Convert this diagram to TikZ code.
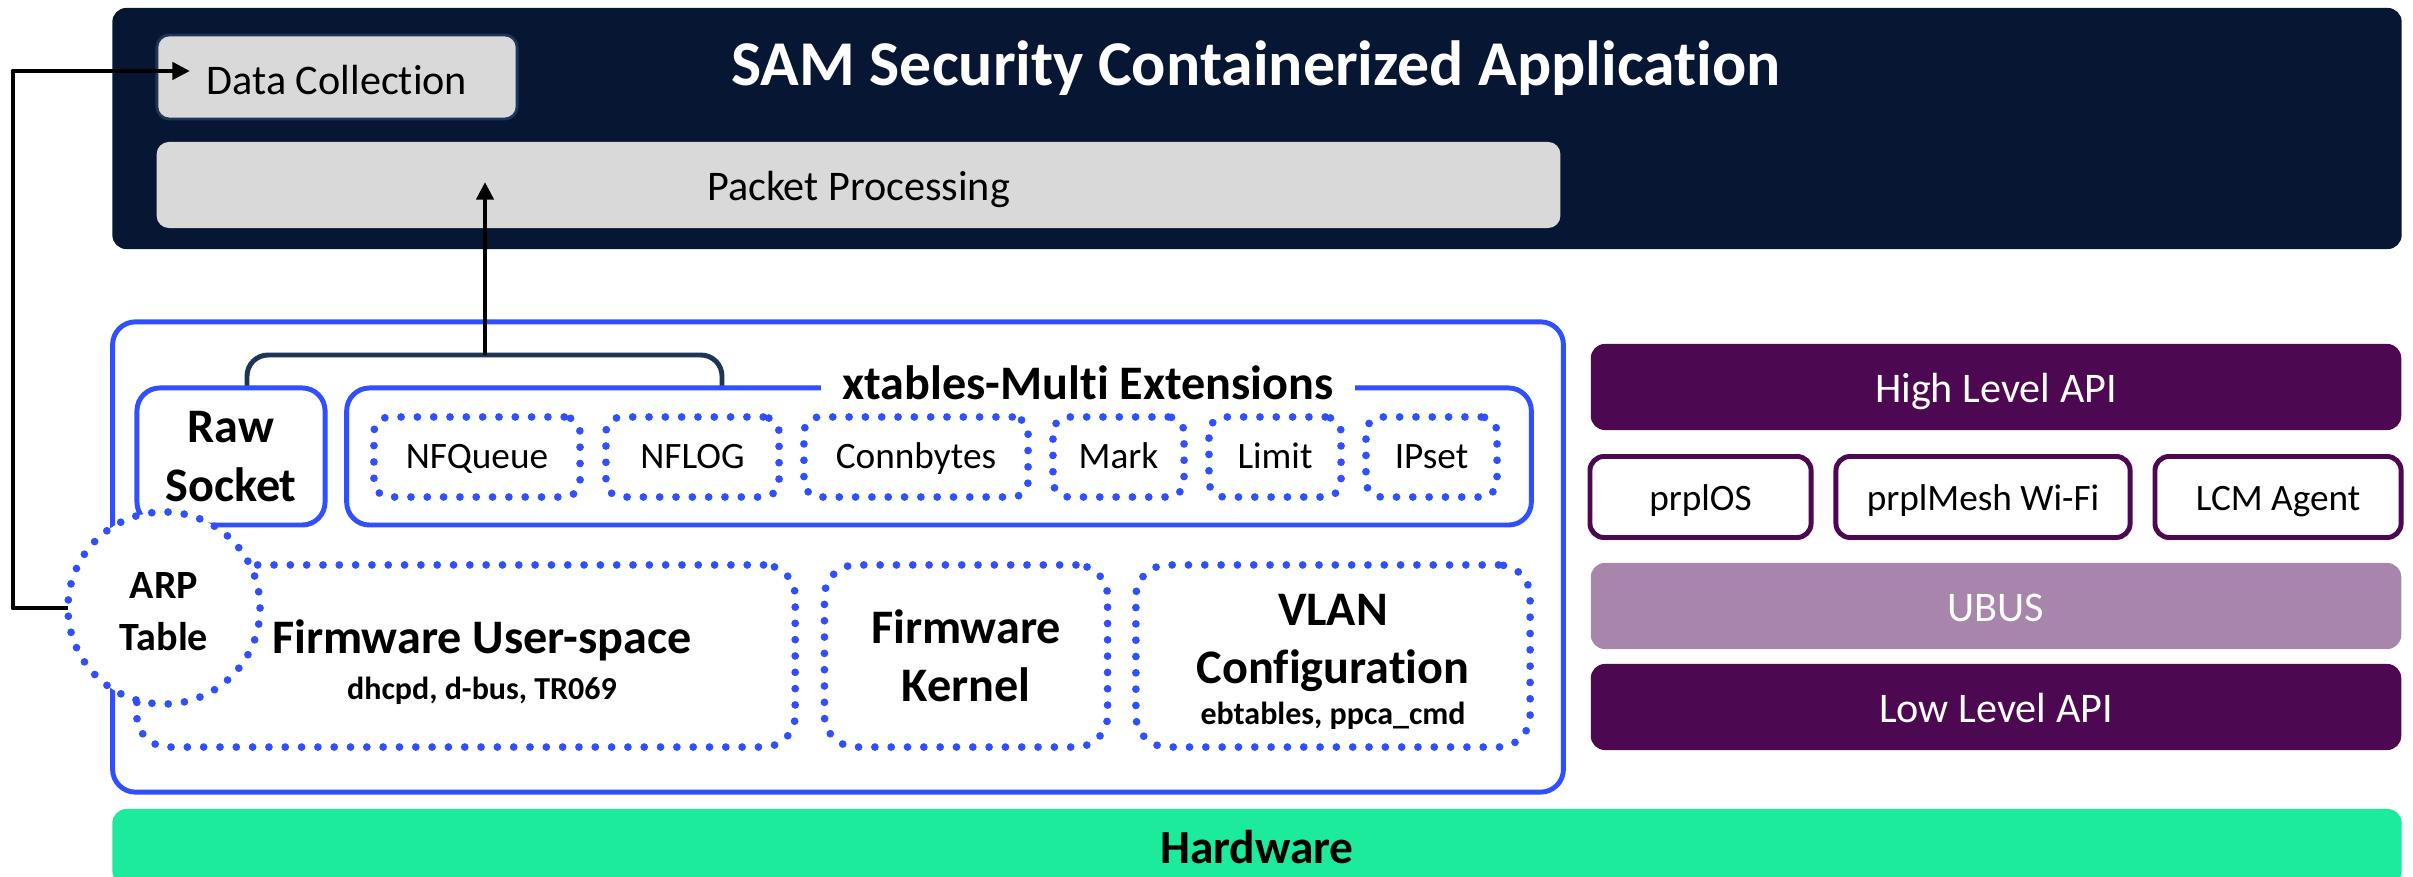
\documentclass[tikz,border=0pt]{standalone}
\usepackage{fontspec}
\setmainfont{Carlito}[Ligatures=NoCommon]
\usetikzlibrary{arrows.meta}
\definecolor{navy}{HTML}{061633}
\definecolor{bargrey}{HTML}{D9D9D9}
\definecolor{edgeblue}{HTML}{304FFE}
\definecolor{plum}{HTML}{4C0850}
\definecolor{mauve}{HTML}{A886AC}
\definecolor{mint}{HTML}{1CEB9B}
\definecolor{brace}{HTML}{1F3557}
\begin{document}
\begin{tikzpicture}[x=.01cm,y=-.01cm,line join=round,>={Stealth[inset=0pt,length=5pt,width=4.8pt]}]
	\tikzset{base/.style={rectangle,inner sep=0pt,outer sep=0pt,font=\fontsize{12}{15}\selectfont},
		bar/.style={base,rounded corners=4pt,text=white,text height=11.1pt,text depth=2.5pt},
		greybar/.style={base,fill=bargrey,rounded corners=3.5pt,text height=11.1pt,text depth=2.5pt},
		solidbox/.style={base,draw=edgeblue,line width=1.4pt,fill=white,rounded corners=6.5pt},
		dotbox/.style={base,draw=edgeblue,line width=2.2pt,line cap=round,dash pattern=on 0pt off 4.64pt,rounded corners=9pt},
		extbox/.style={dotbox,rounded corners=4.5pt,font=\fontsize{10.6}{13}\selectfont,text height=8.9pt,text depth=2.5pt},
		apibox/.style={base,draw=plum,line width=1.4pt,fill=white,rounded corners=4pt,font=\fontsize{10.6}{13}\selectfont,text height=10.3pt,text depth=2.5pt},
		bold/.style={font=\fontsize{13.7}{16.6}\selectfont\bfseries,align=center},
		flow/.style={->,line width=1.4pt}}
	\useasboundingbox (0,0) rectangle (2413,877);
	% top block
	\node[bar,fill=navy,minimum width=22.88cm,minimum height=2.41cm] (app) at (1257,128.5) {};
	\node[base,text=white,font=\fontsize{18.15}{22}\selectfont\bfseries] (apptitle) at (1256,68) {SAM Security Containerized Application};
	\node[greybar,draw=brace,line width=.8pt,text height=12.2pt,minimum width=3.6cm,minimum height=.84cm] (collect) at (337,77) {Data Collection};
	\node[greybar,minimum width=14.03cm,minimum height=.86cm] (packet) at (858.5,185) {Packet Processing};
	% firmware block
	\node[solidbox,minimum width=14.5cm,minimum height=4.7cm] (firmware) at (838,557) {};
	\coordinate (brkleft) at (247,388);
	\coordinate (brkright) at (722,388);
	\coordinate (brkmid) at (485,355);
	\coordinate (packettip) at (485,182);
	\draw[brace,line width=1.4pt,rounded corners=6pt] (brkleft)--(247,355)--(722,355)--(brkright);
	\draw[flow] (brkmid)--(packettip);
	\node[solidbox,bold,minimum width=1.88cm,minimum height=1.37cm] (rawsocket) at (231,456.5) {Raw\\[.4pt]Socket};
	\node[solidbox,minimum width=11.84cm,minimum height=1.37cm] (xtables) at (939,456.5) {};
	\node[base,bold,fill=white,inner xsep=.21cm] (xtablestitle) at (1088,383) {xtables-Multi Extensions};
	\foreach \nm/\cx/\bw/\txt in {nfqueue/477/2.06/NFQueue,nflog/692.5/1.73/NFLOG,connbytes/916/2.24/Connbytes,
		mark/1118.5/1.31/Mark,limit/1275/1.32/Limit,ipset/1431.5/1.31/IPset}
	\node[extbox,minimum width=\bw cm,minimum height=.8cm] (\nm) at (\cx,457) {\txt};
	\node[dotbox,minimum width=6.58cm,minimum height=1.82cm] (userspace) at (466,656) {};
	\node[base,bold] (userspacetext) at (482,662) {Firmware User-space\\[-3.6pt]{\fontsize{9.1}{11}\selectfont dhcpd, d-bus, TR069}};
	\node[dotbox,bold,minimum width=2.83cm,minimum height=1.82cm] (kernel) at (966,656) {Firmware\\Kernel};
	\node[dotbox,minimum width=3.94cm,minimum height=1.82cm] (vlan) at (1333,656) {};
	\node[base,bold] (vlantext) at (1333,661.5) {VLAN\\Configuration\\[-5pt]{\fontsize{9.1}{11}\selectfont ebtables, ppca\_cmd}};
	\node[dotbox,circle,bold,fill=white,minimum size=1.92cm,font=\fontsize{11.4}{15}\selectfont\bfseries] (arp) at (164,608) {\rule{0pt}{9.5pt}ARP\\Table};
	\coordinate (collecttip) at (190,71);
	\draw[flow] (arp.west)--(13,608)|-(collecttip);
	% right column
	\node[bar,fill=plum,minimum width=8.1cm,minimum height=.86cm] (highapi) at (1996,387) {High Level API};
	\node[apibox,minimum width=2.21cm,minimum height=.81cm] (prplos) at (1700.5,497) {prplOS};
	\node[apibox,minimum width=2.94cm,minimum height=.81cm] (prplmesh) at (1983,497) {prplMesh Wi-Fi};
	\node[apibox,minimum width=2.46cm,minimum height=.81cm] (lcm) at (2278,497) {LCM Agent};
	\node[bar,fill=mauve,minimum width=8.1cm,minimum height=.86cm] (ubus) at (1996,606) {UBUS};
	\node[bar,fill=plum,minimum width=8.1cm,minimum height=.86cm] (lowapi) at (1996,707) {Low Level API};
	% bottom
	\node[base,fill=mint,rounded corners=4pt,minimum width=22.88cm,minimum height=.76cm,font=\fontsize{13.5}{16}\selectfont\bfseries] (hardware) at (1257,847) {Hardware};
\end{tikzpicture}
\end{document}
